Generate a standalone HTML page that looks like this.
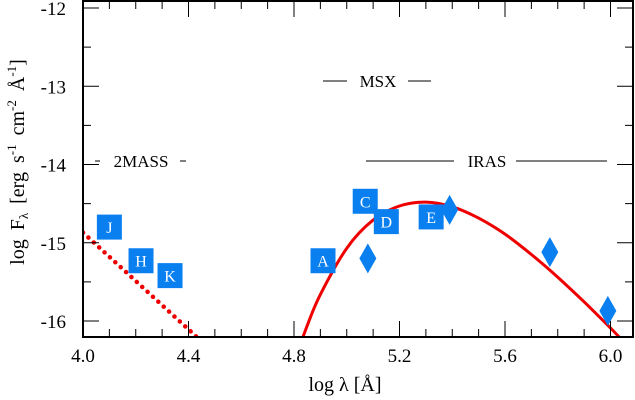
<!DOCTYPE html>
<html><head><meta charset="utf-8"><style>
html,body{margin:0;padding:0;background:#fff;width:635px;height:400px;overflow:hidden}
svg{font-family:"Liberation Serif",serif}
</style></head><body>
<svg id="c" width="635" height="400"></svg>
<script>
const xTicks=[4.0,4.4,4.8,5.2,5.6,6.0];
const xTickLabels=["4.0","4.4","4.8","5.2","5.6","6.0"];
const yTicks=[-12,-13,-14,-15,-16];
const yTickLabels=["-12","-13","-14","-15","-16"];
const boxNames=["J","H","K","A","C","D","E"];
const boxX=[4.10,4.22,4.33,4.91,5.07,5.15,5.32];
const boxY=[-14.8,-15.23,-15.42,-15.23,-14.47,-14.73,-14.67];
const diaX=[5.08,5.39,5.77,5.99];
const diaY=[-15.2,-14.58,-15.12,-15.87];
const modelX=[4.8,4.85,4.9,5.0,5.1,5.2,5.3,5.4,5.5,5.6,5.7,5.8,5.9,6.0,6.05];
const modelY=[-16.53,-16.06,-15.66,-15.07,-14.71,-14.53,-14.48,-14.54,-14.685,-14.89,-15.15,-15.44,-15.755,-16.09,-16.265];
const dotX=[4.0,4.43];
const dotY=[-14.87,-16.2];

const L=83,R=633,T=1,B=337;
const X=v=>83+(v-4)*263.75;
function Yf(v){return 8+(-12-v)*78.25;}
const NS="http://www.w3.org/2000/svg";
const svg=document.getElementById('c');
function mk(t,a,p){const e=document.createElementNS(NS,t);for(const k in a)e.setAttribute(k,a[k]);(p||svg).appendChild(e);return e;}

const defs=mk('defs',{});
const cp=mk('clipPath',{id:'clip'},defs);mk('rect',{x:L,y:T,width:R-L,height:B-T},cp);

// smooth model curve (Catmull-Rom through data points)
const pts=modelX.map((x,i)=>[X(x),Yf(modelY[i])]);
let d='M'+pts[0][0].toFixed(1)+','+pts[0][1].toFixed(1);
for(let i=0;i<pts.length-1;i++){
  const p0=pts[Math.max(0,i-1)],p1=pts[i],p2=pts[i+1],p3=pts[Math.min(pts.length-1,i+2)];
  const c1=[p1[0]+(p2[0]-p0[0])/6,p1[1]+(p2[1]-p0[1])/6];
  const c2=[p2[0]-(p3[0]-p1[0])/6,p2[1]-(p3[1]-p1[1])/6];
  d+=` C${c1[0].toFixed(1)},${c1[1].toFixed(1)} ${c2[0].toFixed(1)},${c2[1].toFixed(1)} ${p2[0].toFixed(1)},${p2[1].toFixed(1)}`;
}
const curve=mk('path',{d:d,fill:'none',stroke:'#ee0000','stroke-width':3,'clip-path':'url(#clip)'});


const dl=mk('line',{x1:X(dotX[0]),y1:Yf(dotY[0]),x2:X(dotX[1]),y2:Yf(dotY[1]),stroke:'#ee0000','stroke-width':4.5,'stroke-linecap':'round','stroke-dasharray':'0.1 7.2','clip-path':'url(#clip)'});



function band(x1,x2,tx,y,txt,name,x3,x4){
  const g=mk('g',{});
  
  
  mk('line',{x1:x1,y1:y,x2:x2,y2:y,stroke:'#000','stroke-width':1},g);
  mk('line',{x1:x3,y1:y,x2:x4,y2:y,stroke:'#000','stroke-width':1},g);
  const t=mk('text',{x:tx,y:y+6,'font-size':17,'text-anchor':'middle'},g);t.textContent=txt;
}
band(95,100,141,161,'2MASS','2mass-label',180,186);
band(323,347,378,81,'MSX','msx-label',408,431);
band(366,454,487,161,'IRAS','iras-label',516,607);

boxNames.forEach((n,i)=>{
  const g=mk('g',{});
  
  
  const cx=X(boxX[i]),cy=Yf(boxY[i]);
  mk('rect',{x:cx-12.5,y:cy-12.5,width:25,height:25,fill:'#0a80f0'},g);
  const t=mk('text',{x:cx,y:cy+6,'font-size':16,fill:'#fff','text-anchor':'middle'},g);t.textContent=n;
});
diaX.forEach((x,i)=>{
  const cx=X(x),cy=Yf(diaY[i]);
  const p=mk('polygon',{points:`${cx},${cy-15} ${cx+8.5},${cy} ${cx},${cy+15} ${cx-8.5},${cy}`,fill:'#0a80f0'});
  
  
});

const fr=mk('rect',{x:L,y:T,width:R-L,height:B-T,fill:'none',stroke:'#000','stroke-width':2});


for(let k=0;k<=20;k++){
  const v=4+k*0.1;const x=X(v);const maj=k%4===0;
  const len=maj?16:8;
  mk('line',{x1:x,y1:B,x2:x,y2:B-len,stroke:'#000'});
  mk('line',{x1:x,y1:T,x2:x,y2:T+len,stroke:'#000'});
}
for(let k=0;k<=8;k++){
  const v=-12-k*0.5;const y=Yf(v);const maj=k%2===0;const len=maj?16:8;
  mk('line',{x1:L,y1:y,x2:L+len,y2:y,stroke:'#000'});
  mk('line',{x1:R,y1:y,x2:R-len,y2:y,stroke:'#000'});
}
xTicks.forEach((v,i)=>{const t=mk('text',{x:X(v),y:362,'font-size':19,'text-anchor':'middle'});
  
  
  t.textContent=xTickLabels[i];});
yTicks.forEach((v,i)=>{const t=mk('text',{x:66,y:Yf(v)+7,'font-size':19,'text-anchor':'end'});
  
  
  t.textContent=yTickLabels[i];});
</script>
<svg width="635" height="400" style="position:absolute;left:0;top:0;font-family:'Liberation Serif',serif">
<text x="345" y="391" font-size="20" text-anchor="middle">log λ [Å]</text>
<text transform="translate(24,162) rotate(-90)" font-size="20" text-anchor="middle" word-spacing="4">log F<tspan font-size="13" dy="4">λ</tspan><tspan dy="-4"> [erg s</tspan><tspan font-size="13" dy="-8">-1</tspan><tspan dy="8"> cm</tspan><tspan font-size="13" dy="-8">-2</tspan><tspan dy="8"> Å</tspan><tspan font-size="13" dy="-8">-1</tspan><tspan dy="8">]</tspan></text>
</svg>
</body></html>
